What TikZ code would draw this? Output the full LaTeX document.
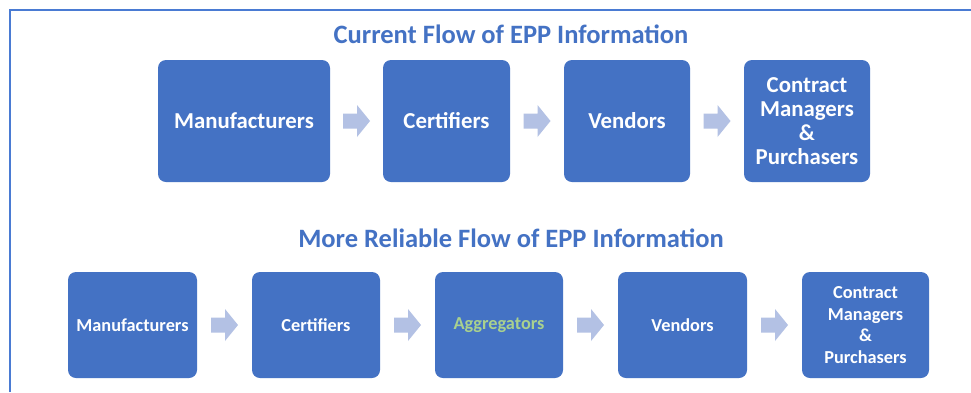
\documentclass[tikz,border=0pt]{standalone}
\usepackage{fontspec}
\setmainfont{Carlito}
\usetikzlibrary{calc}
\definecolor{boxblue}{HTML}{4472C4}
\definecolor{frameblue}{HTML}{4A7BD3}
\definecolor{arrowfill}{HTML}{B3C1E4}
\definecolor{aggtext}{HTML}{A9D18E}
\tikzset{
  stagebox/.style={fill=boxblue, rounded corners=8pt, text=white,
    align=center, inner sep=0pt, minimum height=#1},
  bigbox/.style={stagebox=122pt, font=\fontsize{22.8}{24}\selectfont\bfseries},
  smallbox/.style={stagebox=106pt, font=\fontsize{18.3}{21.5}\selectfont\bfseries},
  flowarrow/.style={fill=arrowfill},
  heading/.style={text=boxblue, font=\fontsize{26.5}{30}\selectfont\bfseries}
}
% block arrow centred midway between the east side of #1 and the west side of #2
\newcommand{\blockarrow}[2]{%
  \fill[flowarrow] ($(#1.east)!0.5!(#2.west)$)
    ++(-13.5,-7.5) -- ++(14,0) -- ++(0,-8.5) -- ++(13,16)
    -- ++(-13,16) -- ++(0,-8.5) -- ++(-14,0) -- cycle;}
\begin{document}
\begin{tikzpicture}[x=1pt, y=-1pt]
  \useasboundingbox (0,0) rectangle (971,392);
  \fill[white] (0,0) rectangle (971,392);
  % frame
  \draw[frameblue, line width=2.5pt] (10,392) -- (10,10) -- (971,10);

  % current flow
  \node[heading] (t1) at (511,34) {Current Flow of EPP Information};
  \node[bigbox, minimum width=172pt] (m1) at (244,121) {Manufacturers};
  \node[bigbox, minimum width=127pt] (c1) at (446.5,121) {Certifiers};
  \node[bigbox, minimum width=126pt] (v1) at (627,121) {Vendors};
  \node[bigbox, minimum width=126pt] (p1) at (807,121) {Contract\\Managers\\\&\\Purchasers};
  \foreach \a/\b in {m1/c1, c1/v1, v1/p1}{\blockarrow{\a}{\b}}

  % more reliable flow
  \node[heading] (t2) at (511,238) {More Reliable Flow of EPP Information};
  \node[smallbox, minimum width=129pt] (m2) at (132.5,325) {Manufacturers};
  \node[smallbox, minimum width=128pt] (c2) at (316,325) {Certifiers};
  \node[smallbox, minimum width=128pt, text=aggtext] (a2) at (499,325) {Aggregators};
  \node[smallbox, minimum width=129pt] (v2) at (682.5,325) {Vendors};
  \node[smallbox, minimum width=127pt] (p2) at (865.5,325) {Contract\\Managers\\\&\\Purchasers};
  \foreach \a/\b in {m2/c2, c2/a2, a2/v2, v2/p2}{\blockarrow{\a}{\b}}
\end{tikzpicture}
\end{document}
